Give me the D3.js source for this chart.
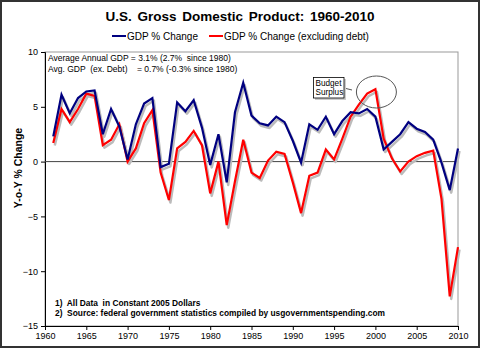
<!DOCTYPE html>
<html>
<head>
<meta charset="utf-8">
<script src="https://cdn.jsdelivr.net/npm/d3@7"></script>
<style>
  body { margin: 0; background: #fff; }
  svg { display: block; font-family: "Liberation Sans", Arial, sans-serif; }
</style>
</head>
<body>
<div id="chart"></div>
<script>
// years 1961-2010
var years = d3.range(1961, 2011);
var gdpChange = [2.3, 6.1, 4.4, 5.8, 6.4, 6.5, 2.5, 4.8, 3.2, 0.2,
                 3.4, 5.3, 5.8, -0.5, -0.2, 5.4, 4.6, 5.6, 3.1, -0.3,
                 2.5, -1.9, 4.5, 7.2, 4.2, 3.5, 3.3, 4.1, 3.6, 1.9,
                 -0.1, 3.4, 2.9, 4.1, 2.5, 3.7, 4.5, 4.4, 4.8, 4.1,
                 1.1, 1.8, 2.5, 3.6, 3.0, 2.7, 2.0, -0.1, -2.6, 1.2];
var gdpExDebt = [1.7, 4.8, 3.6, 4.8, 6.2, 6.0, 1.5, 2.0, 3.4, 0.0,
                 1.2, 3.5, 4.7, -1.0, -3.5, 1.2, 1.8, 2.8, 1.5, -2.9,
                 0.0, -5.8, -1.8, 2.0, -1.0, -1.5, 0.1, 0.9, 0.7, -1.9,
                 -4.7, -1.3, -1.0, 1.1, 0.2, 2.1, 4.1, 5.2, 6.2, 6.6,
                 2.1, 0.3, -0.9, 0.0, 0.5, 0.8, 1.0, -3.4, -12.3, -7.8];
var xTicks = d3.range(1960, 2011, 5);
var yTicks = [10, 5, 0, -5, -10, -15];
var seriesNames = ["GDP % Change", "GDP % Change (excluding debt)"];
var seriesColors = ["#000080", "#ff0000"];
var avgLines = ["Average Annual GDP = 3.1% (2.7%  since 1980)",
                "Avg. GDP  (ex. Debt)    = 0.7% (-0.3% since 1980)"];
var notes = ["1)  All Data  in Constant 2005 Dollars",
             "2)  Source: federal government statistics compiled by usgovernmentspending.com"];

var W = 480, H = 348;
var svg = d3.select("#chart").append("svg").attr("width", W).attr("height", H);

svg.append("rect").attr("x", 1).attr("y", 1).attr("width", W - 2).attr("height", H - 2)
    .attr("fill", "#fff").attr("stroke", "#333").attr("stroke-width", 2);

var x = d3.scaleLinear().domain([1960, 2010]).range([45, 458]);
var y = d3.scaleLinear().domain([-15, 10]).range([326, 52]);

// plot frame
svg.append("rect").attr("x", x(1960)).attr("y", y(10))
    .attr("width", x(2010) - x(1960)).attr("height", y(-15) - y(10))
    .attr("fill", "none").attr("stroke", "#999");

// title
svg.append("text").attr("x", 240).attr("y", 21).attr("text-anchor", "middle")
    .attr("font-size", 13.5).attr("font-weight", "bold").attr("word-spacing", 2)
    .text("U.S. Gross Domestic Product: 1960-2010");

// legend
var legX = [112, 209];
seriesNames.forEach(function(n, i) {
    svg.append("line").attr("x1", legX[i]).attr("x2", legX[i] + 14)
        .attr("y1", 36).attr("y2", 36).attr("stroke", seriesColors[i]).attr("stroke-width", 2);
    svg.append("text").attr("x", legX[i] + 15).attr("y", 39.5)
        .attr("font-size", 10).text(n);
});

// axes
var yAxis = d3.axisLeft(y).tickValues(yTicks).tickSize(4).tickFormat(d3.format("d"));
var gy = svg.append("g").attr("transform", "translate(" + x(1960) + ",0)").call(yAxis);
gy.select(".domain").attr("stroke", "#000");
gy.selectAll("text").attr("font-size", 9).attr("font-family", "Liberation Sans, Arial").attr("x", -7);

var xAxis = d3.axisBottom(x).tickValues(xTicks).tickSize(4).tickFormat(d3.format("d"));
var gx = svg.append("g").attr("transform", "translate(0," + y(-15) + ")").call(xAxis);
gx.select(".domain").attr("stroke", "#000");
gx.selectAll("text").attr("font-size", 9).attr("font-family", "Liberation Sans, Arial").attr("y", 7);

// zero line
svg.append("line").attr("x1", x(1960)).attr("x2", x(2010))
    .attr("y1", y(0)).attr("y2", y(0)).attr("stroke", "#444").attr("stroke-width", 1);

// y title
svg.append("text").attr("transform", "translate(22," + 168 + ") rotate(-90)")
    .attr("text-anchor", "middle").attr("font-size", 10.5).attr("font-weight", "bold")
    .text("Y-o-Y % Change");

// lines with shadow
var line = d3.line().x(function(d) { return x(d[0]); }).y(function(d) { return y(d[1]); });
var series = [gdpChange, gdpExDebt];
series.forEach(function(vals) {
    svg.append("path").datum(years.map(function(yr, i) { return [yr, vals[i]]; }))
        .attr("d", line).attr("fill", "none").attr("stroke", "#bbb")
        .attr("stroke-width", 2.5).attr("stroke-linejoin", "round")
        .attr("transform", "translate(1.5,2.5)");
});
series.slice().reverse().forEach(function(vals, k) {
    var i = series.length - 1 - k;
    svg.append("path").datum(years.map(function(yr, j) { return [yr, vals[j]]; }))
        .attr("d", line).attr("fill", "none").attr("stroke", seriesColors[i])
        .attr("stroke-width", 2.2).attr("stroke-linejoin", "miter");
});

// average text
avgLines.forEach(function(t, i) {
    svg.append("text").attr("x", 48).attr("y", 61 + i * 11)
        .attr("font-size", 8.5).style("white-space", "pre")
        .text(t);
});

// notes
notes.forEach(function(t, i) {
    svg.append("text").attr("x", 55).attr("y", 306 + i * 10)
        .attr("font-size", 8.4).attr("font-weight", "bold").style("white-space", "pre")
        .text(t);
});

// budget surplus callout
svg.append("ellipse").attr("cx", x(2000) + 1).attr("cy", 92).attr("rx", 20).attr("ry", 16)
    .attr("fill", "none").attr("stroke", "#555").attr("stroke-width", 1);
svg.append("line").attr("x1", 344).attr("y1", 88).attr("x2", 352).attr("y2", 90)
    .attr("stroke", "#555");
svg.append("rect").attr("x", 315).attr("y", 79).attr("width", 31).attr("height", 21)
    .attr("fill", "#ccc");
svg.append("rect").attr("x", 313.5).attr("y", 77.5).attr("width", 30.5).attr("height", 20.5)
    .attr("fill", "#fff").attr("stroke", "#000").attr("stroke-width", 0.8);
["Budget", "Surplus"].forEach(function(t, i) {
    svg.append("text").attr("x", 315.5).attr("y", 86 + i * 9).attr("font-size", 8.2).text(t);
});
</script>
</body>
</html>
